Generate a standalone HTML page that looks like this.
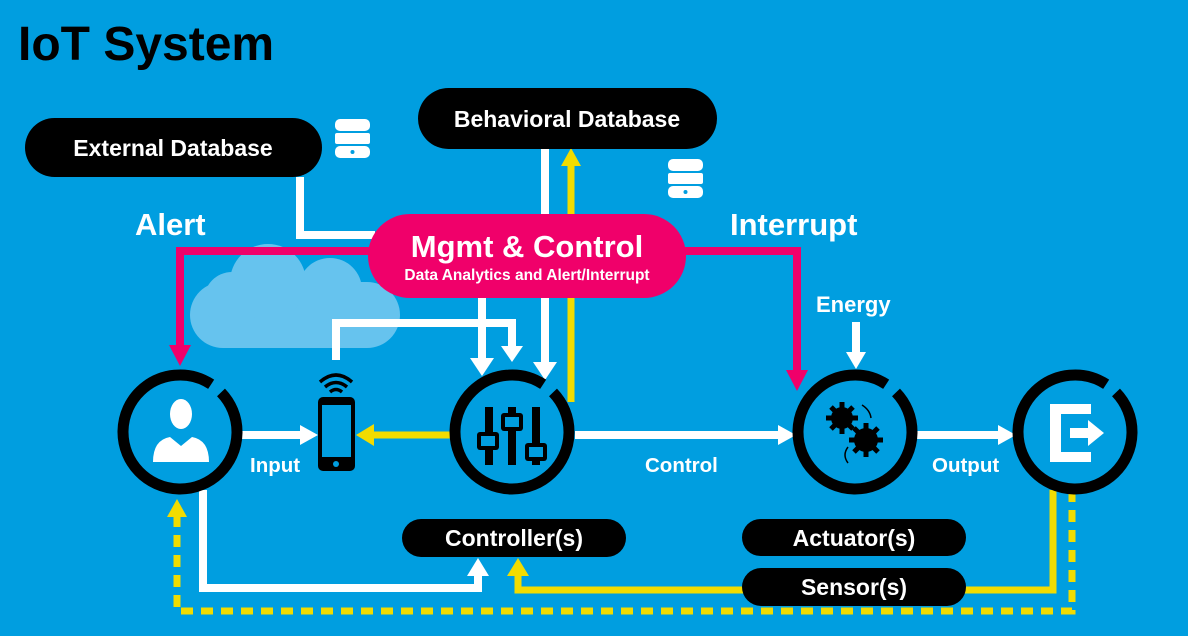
<!DOCTYPE html>
<html><head><meta charset="utf-8"><style>
html,body{margin:0;padding:0;background:#009ee0;}
svg{display:block;font-family:"Liberation Sans",sans-serif;font-weight:bold;}
</style></head><body>
<svg width="1188" height="636" viewBox="0 0 1188 636" xmlns="http://www.w3.org/2000/svg">
<rect width="1188" height="636" fill="#009ee0"/>
<text x="18" y="60" font-size="48" fill="#000">IoT System</text>

<!-- cloud -->
<g fill="#66c3ee">
<rect x="190" y="282" width="210" height="66" rx="33"/>
<circle cx="268" cy="282" r="38"/>
<circle cx="330" cy="290" r="32"/>
<circle cx="232" cy="300" r="28"/>
</g>

<!-- white connectors -->
<g stroke="#fff" stroke-width="8" fill="none">
<polyline points="300,177 300,235 375,235"/>
<line x1="482" y1="298" x2="482" y2="360"/>
<line x1="545" y1="149" x2="545" y2="365"/>
<polyline points="336,360 336,323 512,323 512,348"/>
<line x1="242" y1="435" x2="302" y2="435"/>
<line x1="575" y1="435" x2="780" y2="435"/>
<line x1="915" y1="435" x2="1000" y2="435"/>
<line x1="856" y1="322" x2="856" y2="355"/>
<polyline points="203,490 203,588 478,588 478,574"/>
</g>
<g fill="#fff">
<polygon points="470,358 494,358 482,376"/>
<polygon points="533,362 557,362 545,380"/>
<polygon points="501,346 523,346 512,362"/>
<polygon points="300,425 300,445 318,435"/>
<polygon points="778,425 778,445 796,435"/>
<polygon points="998,425 998,445 1016,435"/>
<polygon points="846,352 866,352 856,369"/>
<polygon points="467,576 489,576 478,558"/>
</g>

<!-- yellow connectors -->
<g stroke="#f2dc00" stroke-width="7" fill="none">
<line x1="571" y1="402" x2="571" y2="165"/>
<line x1="450" y1="435" x2="372" y2="435"/>
<polyline points="1053,490 1053,590 518,590 518,574"/>
<polyline points="1072,490 1072,611 177,611 177,515" stroke-dasharray="12 8"/>
</g>
<g fill="#f2dc00">
<polygon points="561,166 581,166 571,148"/>
<polygon points="374,424 374,446 356,435"/>
<polygon points="507,576 529,576 518,558"/>
<polygon points="167,517 187,517 177,499"/>
</g>

<!-- pink connectors -->
<g stroke="#f0006a" stroke-width="8" fill="none">
<polyline points="380,251 180,251 180,348"/>
<polyline points="680,251 797,251 797,372"/>
</g>
<g fill="#f0006a">
<polygon points="169,345 191,345 180,366"/>
<polygon points="786,370 808,370 797,391"/>
</g>

<!-- pills -->
<rect x="25" y="118" width="297" height="59" rx="29.5" fill="#000"/>
<text x="173" y="156" font-size="23" fill="#fff" text-anchor="middle">External Database</text>
<rect x="418" y="88" width="299" height="61" rx="30.5" fill="#000"/>
<text x="567" y="127" font-size="23" fill="#fff" text-anchor="middle">Behavioral Database</text>
<rect x="368" y="214" width="318" height="84" rx="42" fill="#f0006a"/>
<text x="527" y="257" font-size="31" fill="#fff" text-anchor="middle">Mgmt &amp; Control</text>
<text x="527" y="280" font-size="15.5" fill="#fff" text-anchor="middle">Data Analytics and Alert/Interrupt</text>
<rect x="402" y="519" width="224" height="38" rx="19" fill="#000"/>
<text x="514" y="546" font-size="23" fill="#fff" text-anchor="middle">Controller(s)</text>
<rect x="742" y="519" width="224" height="37" rx="18.5" fill="#000"/>
<text x="854" y="546" font-size="23" fill="#fff" text-anchor="middle">Actuator(s)</text>
<rect x="742" y="568" width="224" height="38" rx="19" fill="#000"/>
<text x="854" y="595" font-size="23" fill="#fff" text-anchor="middle">Sensor(s)</text>

<!-- db icons -->
<g fill="#fff">
<g transform="translate(335,119)">
<rect x="0" y="0" width="35" height="12" rx="5"/><rect x="0" y="14" width="35" height="11" rx="2"/><rect x="0" y="27" width="35" height="12" rx="5"/>
<circle cx="17.5" cy="33" r="2" fill="#009ee0"/></g>
<g transform="translate(668,159)">
<rect x="0" y="0" width="35" height="12" rx="5"/><rect x="0" y="14" width="35" height="11" rx="2"/><rect x="0" y="27" width="35" height="12" rx="5"/>
<circle cx="17.5" cy="33" r="2" fill="#009ee0"/></g>
</g>

<!-- labels -->
<g fill="#fff">
<text x="135" y="235" font-size="31">Alert</text>
<text x="730" y="235" font-size="31">Interrupt</text>
<text x="816" y="312" font-size="22">Energy</text>
<text x="250" y="472" font-size="20.5">Input</text>
<text x="645" y="472" font-size="20.5">Control</text>
<text x="932" y="472" font-size="20.5">Output</text>
</g>

<!-- rings -->
<g fill="none" stroke="#000" stroke-width="11" stroke-dasharray="345 13">
<circle cx="180" cy="432" r="57" transform="rotate(-44 180 432)"/>
<circle cx="512" cy="432" r="57" transform="rotate(-44 512 432)"/>
<circle cx="855" cy="432" r="57" transform="rotate(-44 855 432)"/>
<circle cx="1075" cy="432" r="57" transform="rotate(-44 1075 432)"/>
</g>

<!-- person -->
<g fill="#fff">
<ellipse cx="181" cy="414" rx="11" ry="15"/>
<path d="M153,462 Q153,440 170,437 L181,446 L192,437 Q209,440 209,462 Z"/>
</g>

<!-- phone -->
<rect x="318" y="397" width="37" height="74" rx="5" fill="#000"/>
<rect x="322" y="405" width="29" height="52" fill="#009ee0"/>
<circle cx="336" cy="464" r="3" fill="#009ee0"/>
<g fill="none" stroke="#000" stroke-width="3.5">
<path d="M320,382 Q336,368 352,382"/>
<path d="M325,387 Q336,378 347,387"/>
<path d="M330,392 Q336,387 342,392"/>
</g>

<!-- sliders -->
<g fill="#000">
<rect x="485" y="407" width="8" height="58"/>
<rect x="477" y="432" width="22" height="18" rx="3"/>
<rect x="508" y="407" width="8" height="58"/>
<rect x="501" y="413" width="22" height="18" rx="3"/>
<rect x="532" y="407" width="8" height="58"/>
<rect x="525" y="443" width="22" height="18" rx="3"/>
</g>
<g fill="#009ee0">
<rect x="481" y="436" width="14" height="10"/>
<rect x="505" y="417" width="14" height="10"/>
<rect x="529" y="447" width="14" height="10"/>
</g>

<!-- gears -->
<g fill="#000">
<circle cx="842" cy="418" r="11"/>
<g stroke="#000" stroke-width="5">
<line x1="842" y1="402" x2="842" y2="434"/><line x1="826" y1="418" x2="858" y2="418"/>
<line x1="831" y1="407" x2="853" y2="429"/><line x1="853" y1="407" x2="831" y2="429"/>
</g>
<circle cx="866" cy="440" r="12"/>
<g stroke="#000" stroke-width="5">
<line x1="866" y1="423" x2="866" y2="457"/><line x1="849" y1="440" x2="883" y2="440"/>
<line x1="854" y1="428" x2="878" y2="452"/><line x1="878" y1="428" x2="854" y2="452"/>
</g>
</g>
<g fill="none" stroke="#000" stroke-width="1.5">
<path d="M862,405 Q870,410 871,418"/>
<path d="M848,447 Q842,455 848,463"/>
</g>

<!-- output icon -->
<g fill="#fff">
<path d="M1050,404 L1091,404 L1091,414 L1061,414 L1061,452 L1091,452 L1091,462 L1050,462 Z"/>
<rect x="1070" y="428" width="20" height="10"/>
<polygon points="1088,420 1104,433 1088,446"/>
</g>
</svg>
</body></html>
